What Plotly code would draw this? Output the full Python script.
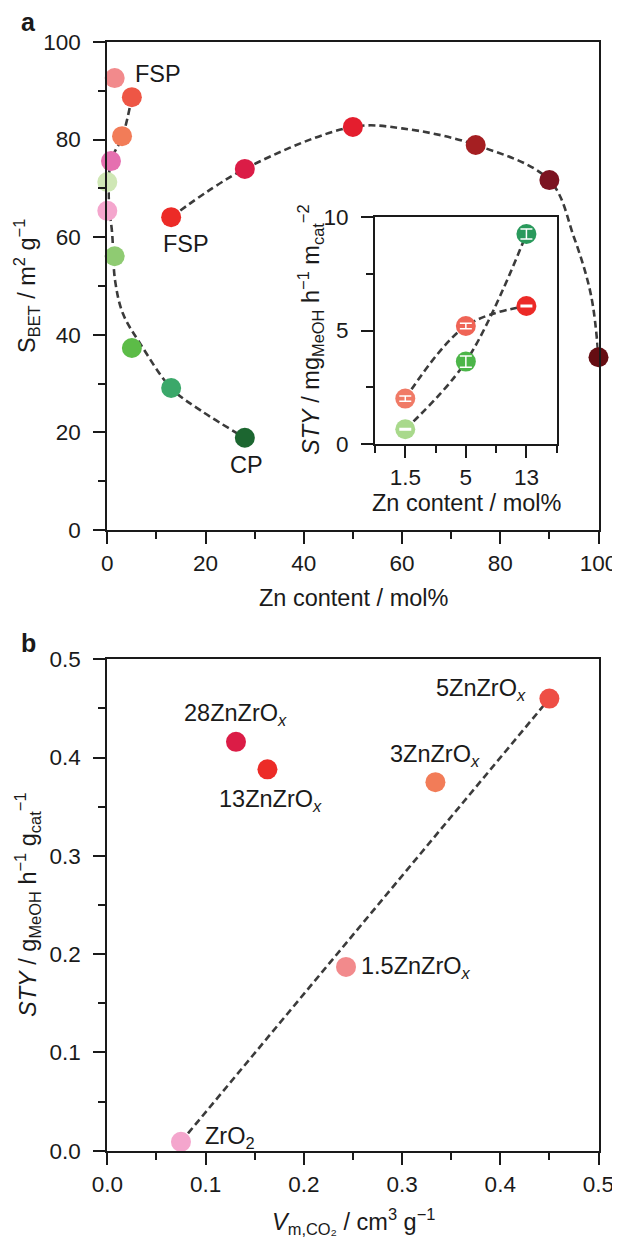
import plotly.graph_objects as go

W, H = 620, 1239
OFF = 8  # default page body margin in the browser

# ---------------- data (panel a) ----------------
fsp_zn = [0, 0.75, 1.5, 3, 5, 13, 28, 50, 75, 90, 100]
fsp_sbet = [65.4, 75.6, 92.6, 80.7, 88.7, 64.1, 74.0, 82.6, 78.9, 71.7, 35.4]
fsp_colors = ["#F4A6CD", "#E570B0", "#F28A8C", "#F27C58", "#EE5645", "#EC2B27",
              "#DB1C46", "#E41E2E", "#A51F22", "#7C1321", "#650D12"]

cp_zn = [0, 1.5, 5, 13, 28]
cp_sbet = [71.3, 56.1, 37.3, 29.1, 18.9]
cp_colors = ["#CFE7B5", "#8FCB72", "#5CBC47", "#3BA86A", "#1C6630"]

# guide-to-the-eye curves
guide1_zn = [5, 3.1, 0.75, 0.3, 1.0, 1.6, 3.2, 6.7, 13, 19, 28]
guide1_sbet = [88.7, 80.7, 75.6, 68.0, 60.6, 51.0, 44.3, 38.2, 29.1, 24.5, 18.9]
guide2_zn = [13, 28, 50, 60, 75, 90, 95, 98.5, 100]
guide2_sbet = [64.1, 74.0, 82.6, 82.3, 78.9, 71.7, 60.0, 48.0, 35.4]

# inset
inset_cats = ["1.5", "5", "13"]
inset_fsp_sty = [2.0, 5.2, 6.08]
inset_fsp_err = [0.12, 0.12, 0.03]
inset_cp_sty = [0.65, 3.63, 9.25]
inset_cp_err = [0.03, 0.25, 0.22]
inset_fsp_colors = ["#F07A66", "#EF6456", "#EC2A27"]
inset_cp_colors = ["#A9D98C", "#4CB649", "#2A9A5C"]

# ---------------- data (panel b) ----------------
b_names = ["ZrO<sub>2</sub>", "1.5ZnZrO<sub><i>x</i></sub>", "3ZnZrO<sub><i>x</i></sub>",
           "5ZnZrO<sub><i>x</i></sub>", "13ZnZrO<sub><i>x</i></sub>", "28ZnZrO<sub><i>x</i></sub>"]
b_vm = [0.075, 0.243, 0.334, 0.450, 0.163, 0.131]
b_sty = [0.009, 0.187, 0.375, 0.460, 0.388, 0.416]
b_colors = ["#F4A6CD", "#F28A8C", "#F27C58", "#EE4E45", "#EC2B27", "#DB1C46"]

FONT = "Liberation Sans, Arial, sans-serif"
INK = "#1a1a1a"
FS = 23.5
TFS = 22.5
DASH = dict(color="#3b3b3b", width=2.6, dash="7px,4px")
MS = 20

FW, FH = W - OFF, H - OFF


def px_x(p):
    return (p - OFF) / FW


def px_y(p):
    return 1 - (p - OFF) / FH


fig = go.Figure()


def line_trace(x, y, xa, ya, spline=True):
    ln = dict(**DASH)
    if spline:
        ln.update(shape="spline", smoothing=1.0)
    fig.add_trace(go.Scatter(x=x, y=y, mode="lines", line=ln, xaxis=xa, yaxis=ya,
                             hoverinfo="skip", cliponaxis=False))


def marker_trace(x, y, colors, xa, ya):
    fig.add_trace(go.Scatter(x=x, y=y, mode="markers", cliponaxis=False,
                             marker=dict(size=MS, color=colors, opacity=1, line=dict(width=0)),
                             xaxis=xa, yaxis=ya))


def err_trace(x, y, err, xa, ya):
    fig.add_trace(go.Scatter(x=x, y=y, mode="markers", cliponaxis=False,
                             marker=dict(size=1, color="rgba(0,0,0,0)"),
                             error_y=dict(type="data", array=err, color="white", thickness=1.5, width=6),
                             xaxis=xa, yaxis=ya, hoverinfo="skip"))


# panel a
line_trace(guide1_zn, guide1_sbet, "x", "y")
line_trace(guide2_zn, guide2_sbet, "x", "y")
marker_trace(fsp_zn, fsp_sbet, fsp_colors, "x", "y")
marker_trace(cp_zn, cp_sbet, cp_colors, "x", "y")

# inset
idx = list(range(len(inset_cats)))
line_trace(idx, inset_fsp_sty, "x2", "y2")
line_trace(idx, inset_cp_sty, "x2", "y2")
marker_trace(idx, inset_fsp_sty, inset_fsp_colors, "x2", "y2")
marker_trace(idx, inset_cp_sty, inset_cp_colors, "x2", "y2")
err_trace(idx, inset_fsp_sty, inset_fsp_err, "x2", "y2")
err_trace(idx, inset_cp_sty, inset_cp_err, "x2", "y2")

# panel b
line_trace([b_vm[0], b_vm[3]], [b_sty[0], b_sty[3]], "x3", "y3", spline=False)
marker_trace(b_vm, b_sty, b_colors, "x3", "y3")

MINOR = dict(ticklen=7, tickwidth=2, tickcolor=INK, ticks="outside")
axis_common = dict(showline=True, linewidth=2, linecolor=INK, mirror=True, ticks="outside", ticklen=12,
                   tickwidth=2, tickcolor=INK, showgrid=False, zeroline=False, automargin=False,
                   tickfont=dict(family=FONT, size=TFS, color=INK))
yextra = dict(ticklabelstandoff=8)

fig.update_layout(
    width=FW, height=FH, margin=dict(l=0, r=0, t=0, b=0, autoexpand=False),
    paper_bgcolor="white", plot_bgcolor="white", showlegend=False,
    font=dict(family=FONT, size=FS, color=INK),
    xaxis=dict(**axis_common, domain=[px_x(107.3), px_x(598.5)], range=[0, 100], dtick=20,
               minor=dict(dtick=10, **MINOR), anchor="y"),
    yaxis=dict(**axis_common, **yextra, domain=[px_y(530), px_y(42)], range=[0, 100], dtick=20,
               minor=dict(dtick=10, **MINOR), anchor="x"),
    xaxis2=dict(**axis_common, domain=[px_x(375), px_x(556.7)], range=[-0.5, 2.5],
                tickvals=idx, ticktext=inset_cats,
                minor=dict(tickvals=[-0.5, 0.5, 1.5, 2.5], **MINOR), anchor="y2"),
    yaxis2=dict(**axis_common, **yextra, domain=[px_y(444), px_y(217)], range=[0, 10], dtick=5,
                minor=dict(dtick=2.5, **MINOR), anchor="x2"),
    xaxis3=dict(**axis_common, domain=[px_x(107.3), px_x(598.5)], range=[0, 0.5], dtick=0.1, tickformat=".1f",
                minor=dict(dtick=0.05, **MINOR), anchor="y3"),
    yaxis3=dict(**axis_common, **yextra, domain=[px_y(1150.7), px_y(659.3)], range=[0, 0.5], dtick=0.1,
                tickformat=".1f", minor=dict(dtick=0.05, **MINOR), anchor="x3"),
)

ann = []


def paper_text(text, x, y, size=FS, angle=0, xanchor="center", yanchor="middle"):
    ann.append(dict(text=text, x=px_x(x), y=px_y(y), xref="paper", yref="paper", showarrow=False,
                    textangle=angle, xanchor=xanchor, yanchor=yanchor,
                    font=dict(family=FONT, size=size, color=INK)))


def data_text(text, x, y, xr, yr, xanchor="center", yanchor="middle"):
    ann.append(dict(text=text, x=x, y=y, xref=xr, yref=yr, showarrow=False,
                    xanchor=xanchor, yanchor=yanchor, font=dict(family=FONT, size=FS, color=INK)))


# panel letters
paper_text("<b>a</b>", 28, 22, size=25)
paper_text("<b>b</b>", 28, 643, size=25)

# axis titles
paper_text("Zn content / mol%", 353, 598)
paper_text("S<sub>BET</sub> / m<sup>2</sup> g<sup>−1</sup>", 27, 286, angle=-90)
paper_text("Zn content / mol%", 466, 503)
paper_text("<i>STY</i> / mg<sub>MeOH</sub> h<sup>−1</sup> m<sub>cat</sub><sup>−2</sup>", 310, 330, angle=-90)
paper_text("<i>V</i><sub>m,CO₂</sub> / cm<sup>3</sup> g<sup>−1</sup>", 353, 1221)
paper_text("<i>STY</i> / g<sub>MeOH</sub> h<sup>−1</sup> g<sub>cat</sub><sup>−1</sup>", 27, 905, angle=-90)

# panel a point labels
data_text("FSP", 5.3, 93.5, "x", "y", xanchor="left")
data_text("FSP", 16.0, 58.6, "x", "y")
data_text("CP", 28.3, 13.3, "x", "y")

# panel b point labels
data_text(b_names[0], 0.0975, 0.013, "x3", "y3", xanchor="left")
data_text(b_names[1], 0.256, 0.186, "x3", "y3", xanchor="left")
data_text(b_names[2], 0.334, 0.402, "x3", "y3")
data_text(b_names[3], 0.428, 0.469, "x3", "y3", xanchor="right")
data_text(b_names[4], 0.166, 0.356, "x3", "y3")
data_text(b_names[5], 0.131, 0.444, "x3", "y3")

fig.update_layout(annotations=ann)

fig.write_html("out.html")
